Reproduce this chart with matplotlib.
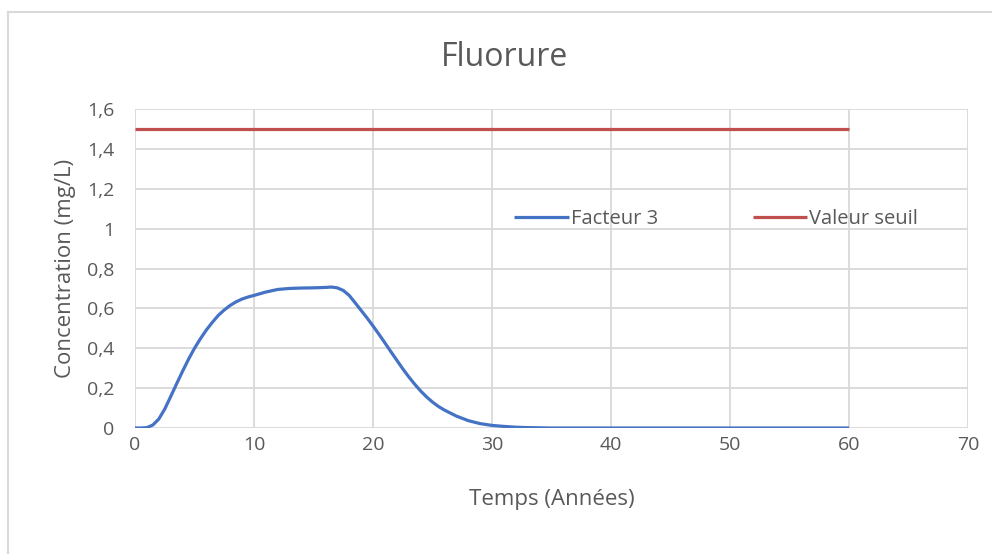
import matplotlib.pyplot as plt
from matplotlib.lines import Line2D
from matplotlib.ticker import FuncFormatter

# Concentration en fluorure (mg/L) en fonction du temps (années)
annees = [0, 0.5, 1, 1.5, 2, 2.5, 3, 3.5, 4, 4.5, 5, 5.5, 6, 6.5, 7, 7.5, 8, 8.5,
          9, 9.5, 10, 11, 12, 13, 14, 15, 16, 16.5, 17, 17.5, 18, 18.5, 19, 19.5,
          20, 20.5, 21, 21.5, 22, 22.5, 23, 23.5, 24, 24.5, 25, 25.5, 26, 27, 28,
          29, 30, 31, 32, 33, 34, 35, 40, 45, 50, 55, 60]
facteur_3 = [0, 0, 0.002, 0.015, 0.045, 0.095, 0.158, 0.222, 0.285, 0.345, 0.40,
             0.448, 0.492, 0.53, 0.565, 0.592, 0.615, 0.633, 0.647, 0.657, 0.665,
             0.682, 0.695, 0.700, 0.702, 0.703, 0.705, 0.707, 0.703, 0.69, 0.665,
             0.628, 0.59, 0.552, 0.512, 0.47, 0.427, 0.383, 0.34, 0.297, 0.257,
             0.22, 0.186, 0.156, 0.13, 0.108, 0.09, 0.06, 0.037, 0.022, 0.013,
             0.008, 0.004, 0.002, 0.001, 0, 0, 0, 0, 0, 0]
seuil_x = [0, 60]
seuil_y = [1.5, 1.5]

bleu = '#4472C4'
rouge = '#C0504D'
gris_texte = '#595959'
gris_grille = '#D9D9D9'

plt.rcParams['font.family'] = ['Open Sans', 'DejaVu Sans']

fig = plt.figure(figsize=(9.92, 5.54), dpi=100)
ax = fig.add_axes([135 / 992, 1 - 428 / 554, (968 - 135) / 992, (428 - 109) / 554])

ax.plot(annees, facteur_3, color=bleu, linewidth=2.3, label='Facteur 3',
        solid_capstyle='butt', zorder=3)
ax.plot(seuil_x, seuil_y, color=rouge, linewidth=2.3, label='Valeur seuil',
        solid_capstyle='butt', zorder=3)

ax.set_xlim(0, 70)
ax.set_ylim(0, 1.6)
ax.set_xticks(range(0, 71, 10))
ax.set_yticks([0, 0.2, 0.4, 0.6, 0.8, 1.0, 1.2, 1.4, 1.6])

def virgule(v, pos):
    s = f'{v:.1f}'.rstrip('0').rstrip('.')
    return s.replace('.', ',')

ax.yaxis.set_major_formatter(FuncFormatter(virgule))
ax.grid(True, color=gris_grille, linewidth=1.3, zorder=0)
ax.set_axisbelow(True)
for s in ax.spines.values():
    s.set_visible(False)
ax.tick_params(length=0, labelsize=14, colors=gris_texte)
ax.tick_params(axis='y', pad=15)
ax.tick_params(axis='x', pad=6)

ax.set_xlabel('Temps (Années)', fontsize=16, color=gris_texte, labelpad=25)
ax.set_ylabel('Concentration (mg/L)', fontsize=16, color=gris_texte, labelpad=8)
fig.text(0.509, 1 - 57 / 554, 'Fluorure', fontsize=23, color=gris_texte,
         ha='center', va='center')

ax.legend(loc='center', bbox_to_anchor=((716 - 135) / 833, (428 - 219) / 319),
          ncol=2, frameon=False, fontsize=14.5, handlelength=2.7,
          handletextpad=0.1, columnspacing=4.7, labelcolor=gris_texte)

# cadre du graphique
fig.add_artist(Line2D([8 / 992, 8 / 992], [0, 1 - 12 / 554], color='#D9D9D9',
                      linewidth=1.5, transform=fig.transFigure))
fig.add_artist(Line2D([8 / 992, 1], [1 - 12 / 554, 1 - 12 / 554], color='#D9D9D9',
                      linewidth=1.5, transform=fig.transFigure))

fig.savefig('out.png', dpi=100)
